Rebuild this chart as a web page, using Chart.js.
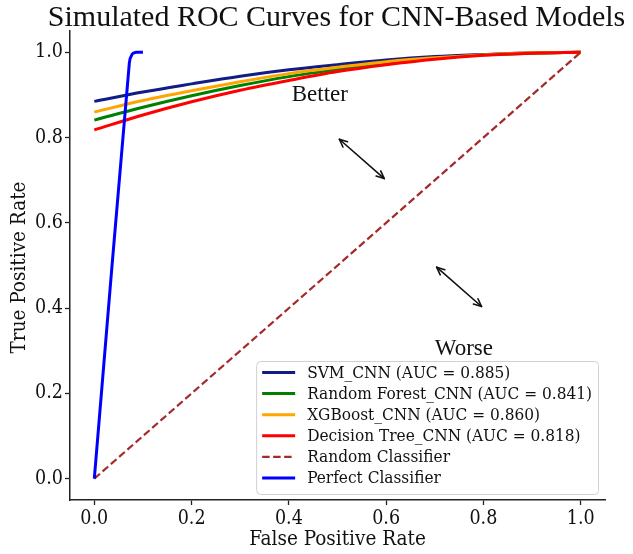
<!DOCTYPE html>
<html><head><meta charset="utf-8">
<script src="https://cdn.jsdelivr.net/npm/chart.js@4.4.1/dist/chart.umd.min.js"></script>
<style>html,body{margin:0;padding:0;background:#fff;}canvas{display:block;}</style>
</head><body>
<canvas id="c" width="633" height="554"></canvas>
<script>
// ---- data ----
const chartTitle = 'Simulated ROC Curves for CNN-Based Models';
const xAxisLabel = 'False Positive Rate';
const yAxisLabel = 'True Positive Rate';
const xTicks = [0.0, 0.2, 0.4, 0.6, 0.8, 1.0];
const yTicks = [0.0, 0.2, 0.4, 0.6, 0.8, 1.0];
const modelNames = ['SVM_CNN', 'Random Forest_CNN', 'XGBoost_CNN', 'Decision Tree_CNN'];
const modelAuc = [0.885, 0.841, 0.860, 0.818];
const fpr = [0.0, 0.1, 0.2, 0.3, 0.4, 0.5, 0.6, 0.7, 0.8, 0.9, 1.0];
const svmTpr = [0.885, 0.907, 0.926, 0.944, 0.959, 0.971, 0.982, 0.990, 0.995, 0.999, 1.0];
const rfTpr  = [0.841, 0.871, 0.898, 0.922, 0.943, 0.960, 0.975, 0.986, 0.994, 0.998, 1.0];
const xgbTpr = [0.860, 0.887, 0.910, 0.931, 0.950, 0.965, 0.978, 0.987, 0.994, 0.999, 1.0];
const dtTpr  = [0.818, 0.853, 0.884, 0.911, 0.934, 0.955, 0.971, 0.984, 0.993, 0.998, 1.0];
const randomLabel = 'Random Classifier';
const randomFpr = [0.0, 1.0];
const randomTpr = [0.0, 1.0];
const perfectLabel = 'Perfect Classifier';
const perfectFpr = [0.0, 0.072, 0.078, 0.086, 0.1];
const perfectTpr = [0.0, 0.975, 0.996, 1.0, 1.0];
const noteTexts = ['Better', 'Worse'];
const noteX = [0.406, 0.70];
const noteY = [0.886, 0.291];
const arrowFrom = [[0.5, 0.8], [0.7, 0.5]];
const arrowTo = [[0.6, 0.7], [0.8, 0.4]];

// ---- styles ----
const modelColors = ['#111d82', '#008000', '#ffa500', '#ff0000'];
const condensed = "'DejaVu Serif Condensed', 'DejaVu Serif', serif";
const times = "'Liberation Serif', 'Times New Roman', serif";
const axisColor = '#222';

const toPts = (xs, ys) => xs.map((x, i) => ({x: x, y: ys[i]}));
const tprs = [svmTpr, rfTpr, xgbTpr, dtTpr];
const datasets = modelNames.map((n, i) => ({
  label: n + ' (AUC = ' + modelAuc[i].toFixed(3) + ')',
  data: toPts(fpr, tprs[i]),
  borderColor: modelColors[i], backgroundColor: modelColors[i],
  borderWidth: 3, pointRadius: 0, fill: false,
  cubicInterpolationMode: 'monotone', order: 6 - i
}));
datasets.push({
  label: randomLabel, data: toPts(randomFpr, randomTpr),
  borderColor: '#a52a2a', backgroundColor: '#a52a2a', borderWidth: 2.2,
  borderDash: [7.5, 3.5], pointRadius: 0, fill: false, tension: 0, order: 2
});
datasets.push({
  label: perfectLabel, data: toPts(perfectFpr, perfectTpr),
  borderColor: '#0000ff', backgroundColor: '#0000ff', borderWidth: 3,
  pointRadius: 0, fill: false, tension: 0.3, borderJoinStyle: 'round', order: 1
});

function txt(ctx, s, x, y, font, align, base) {
  ctx.save(); ctx.font = font; ctx.fillStyle = '#111';
  ctx.textAlign = align; ctx.textBaseline = base;
  ctx.fillText(s, x, y); ctx.restore();
}

const decor = {
  id: 'decor',
  afterDraw(chart) {
    const ctx = chart.ctx, ca = chart.chartArea;
    const xs = chart.scales.x, ys = chart.scales.y;
    // title
    txt(ctx, chartTitle, (ca.left + ca.right) / 2 - 1, 25.5, '30px ' + times, 'center', 'alphabetic');
    // axis labels
    txt(ctx, xAxisLabel, (ca.left + ca.right) / 2, 545, '20.5px ' + condensed, 'center', 'alphabetic');
    ctx.save(); ctx.translate(25, (ca.top + ca.bottom) / 2 + 2); ctx.rotate(-Math.PI / 2);
    txt(ctx, yAxisLabel, 0, 0, '20.5px ' + condensed, 'center', 'alphabetic');
    ctx.restore();
    // notes
    noteTexts.forEach((t, i) => {
      txt(ctx, t, xs.getPixelForValue(noteX[i]), ys.getPixelForValue(noteY[i]), '23px ' + times, 'left', 'alphabetic');
    });
    // double arrows
    ctx.save(); ctx.strokeStyle = '#111'; ctx.fillStyle = '#111'; ctx.lineWidth = 1.6; ctx.lineCap = 'round'; ctx.lineJoin = 'round';
    arrowFrom.forEach((a, i) => {
      const b = arrowTo[i];
      let x1 = xs.getPixelForValue(a[0]), y1 = ys.getPixelForValue(a[1]);
      let x2 = xs.getPixelForValue(b[0]), y2 = ys.getPixelForValue(b[1]);
      const ang = Math.atan2(y2 - y1, x2 - x1), sh = 2.5;
      x1 += Math.cos(ang) * sh; y1 += Math.sin(ang) * sh;
      x2 -= Math.cos(ang) * sh; y2 -= Math.sin(ang) * sh;
      ctx.beginPath(); ctx.moveTo(x1, y1); ctx.lineTo(x2, y2); ctx.stroke();
      const hl = 8.5, hw = 0.42;
      [[x1, y1, ang], [x2, y2, ang + Math.PI]].forEach(([px, py, an]) => {
        ctx.beginPath();
        ctx.moveTo(px + Math.cos(an + hw) * hl, py + Math.sin(an + hw) * hl);
        ctx.lineTo(px, py);
        ctx.lineTo(px + Math.cos(an - hw) * hl, py + Math.sin(an - hw) * hl);
        ctx.stroke();
      });
    });
    ctx.restore();
    // legend (lower right, inside axes)
    const lf = '17.1px ' + condensed;
    ctx.save(); ctx.font = lf;
    const dsl = chart.data.datasets;
    let maxW = 0; dsl.forEach(d => { maxW = Math.max(maxW, ctx.measureText(d.label).width); });
    const rowH = 21.1, padL = 6, handle = 33, gap = 12, padR = 6;
    const boxW = padL + handle + gap + maxW + padR;
    const boxH = 133;
    const bx = ca.right - 7 - boxW, by = ca.bottom - 6 - boxH;
    ctx.fillStyle = 'rgba(255,255,255,0.85)'; ctx.strokeStyle = '#d0d0d0'; ctx.lineWidth = 1;
    ctx.beginPath(); ctx.roundRect(bx + 0.5, by + 0.5, boxW, boxH, 4); ctx.fill(); ctx.stroke();
    dsl.forEach((d, i) => {
      const cy = by + 11.5 + i * rowH;
      ctx.strokeStyle = d.borderColor; ctx.lineWidth = d.borderWidth; ctx.setLineDash(d.borderDash || []);
      ctx.beginPath(); ctx.moveTo(bx + padL, cy); ctx.lineTo(bx + padL + handle, cy); ctx.stroke();
      ctx.setLineDash([]);
      ctx.fillStyle = '#111'; ctx.textAlign = 'left'; ctx.textBaseline = 'middle';
      ctx.fillText(d.label, bx + padL + handle + gap, cy + 1);
    });
    ctx.restore();
  }
};

const axisCommon = (ticks) => ({
  type: 'linear', min: -0.05, max: 1.05,
  afterBuildTicks: s => { s.ticks = ticks.map(v => ({value: v})); },
  ticks: { callback: v => Number(v).toFixed(1), font: {family: condensed, size: 19.5}, color: '#111', padding: 2, maxRotation: 0, autoSkip: false },
  grid: { display: true, drawOnChartArea: false, drawTicks: true, tickLength: 5, tickColor: axisColor, tickWidth: 1.3 },
  border: { display: true, color: axisColor, width: 1.5 }
});
const xScale = axisCommon(xTicks); xScale.afterFit = s => { s.height = 54; };
const yScale = axisCommon(yTicks); yScale.afterFit = s => { s.width = 70; };

new Chart(document.getElementById('c'), {
  type: 'line',
  data: { datasets: datasets },
  options: {
    responsive: false, animation: false,
    layout: { padding: { top: 31, right: 28, left: 0, bottom: 0 } },
    plugins: { legend: { display: false }, title: { display: false }, tooltip: { enabled: false } },
    scales: { x: xScale, y: yScale }
  },
  plugins: [decor]
});
</script>
</body></html>
